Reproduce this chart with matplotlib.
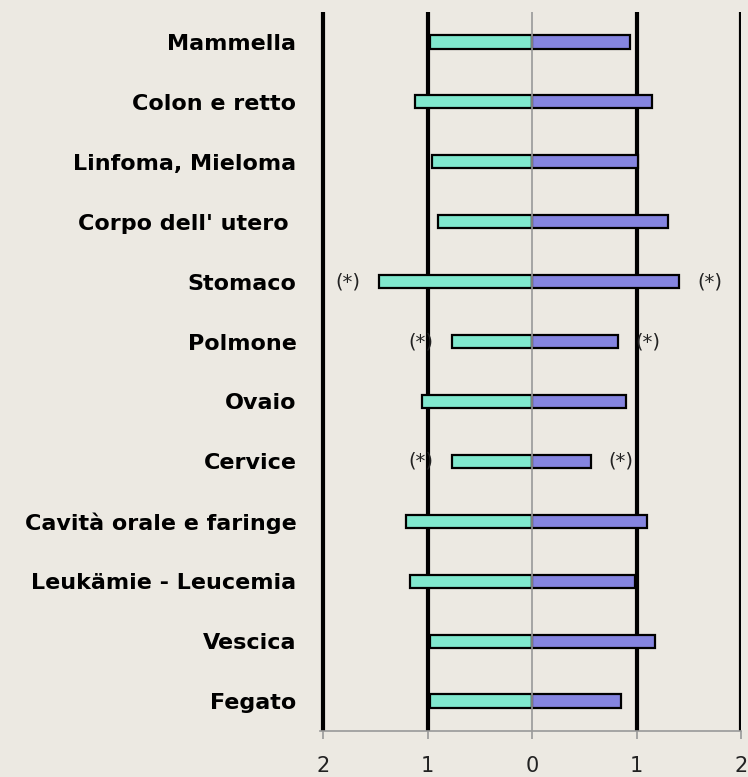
import matplotlib
matplotlib.use('Agg')
import matplotlib.pyplot as plt
import numpy as np

# categorie dall'alto verso il basso
categories = ['Mammella', 'Colon e retto', 'Linfoma, Mieloma', "Corpo dell' utero ",
              'Stomaco', 'Polmone', 'Ovaio', 'Cervice', 'Cavità orale e faringe',
              'Leukämie - Leucemia', 'Vescica', 'Fegato']
left_values = [0.98, 1.12, 0.96, 0.90, 1.47, 0.77, 1.05, 0.77, 1.21, 1.17, 0.98, 0.98]
right_values = [0.94, 1.15, 1.01, 1.30, 1.41, 0.82, 0.90, 0.56, 1.10, 0.99, 1.18, 0.85]
significant = ['Stomaco', 'Polmone', 'Cervice']
tick_values = [-2, -1, 0, 1, 2]
tick_labels = ['2', '1', '0', '1', '2']

bg = '#ECE9E2'
fig = plt.figure(figsize=(7.48, 7.77), dpi=100, facecolor=bg)
ax = fig.add_axes([320 / 748, 46 / 777, 421 / 748, 719 / 777])
ax.set_facecolor(bg)

y = np.arange(len(categories))[::-1]
ax.barh(y, [-v for v in left_values], height=0.22, color='#80E8CE',
        edgecolor='black', linewidth=1.6, zorder=3)
ax.barh(y, right_values, height=0.22, color='#8585E0',
        edgecolor='black', linewidth=1.6, zorder=3)

for xv in [-2, -1, 1, 2]:
    ax.axvline(xv, color='black', linewidth=3.0, zorder=2)
ax.axvline(0, color='#999999', linewidth=1.2, zorder=4)

# asterischi di significatività
for name, lv, rv, yy in zip(categories, left_values, right_values, y):
    if name in significant:
        ax.annotate('(*)', xy=(-lv, yy), xytext=(-18, 0), textcoords='offset pixels',
                    ha='right', va='center', fontsize=14, color='#222222', zorder=5)
        ax.annotate('(*)', xy=(rv, yy), xytext=(18, 0), textcoords='offset pixels',
                    ha='left', va='center', fontsize=14, color='#222222', zorder=5)

ax.set_xlim(-2.03, 2.0)
ax.set_ylim(-0.5, len(categories) - 0.5)
ax.set_xticks(tick_values)
ax.set_xticklabels(tick_labels, fontsize=15, color='#222222')
ax.set_yticks(y)
ax.set_yticklabels(categories, fontsize=16, fontweight='bold')
ax.tick_params(axis='y', length=0, pad=17)
ax.tick_params(axis='x', length=6, width=1.2, color='#999999', pad=12)

for s in ['top', 'right', 'left']:
    ax.spines[s].set_visible(False)
ax.spines['bottom'].set_color('#999999')
ax.spines['bottom'].set_linewidth(1.2)

fig.savefig('out.png', dpi=100, facecolor=bg)
